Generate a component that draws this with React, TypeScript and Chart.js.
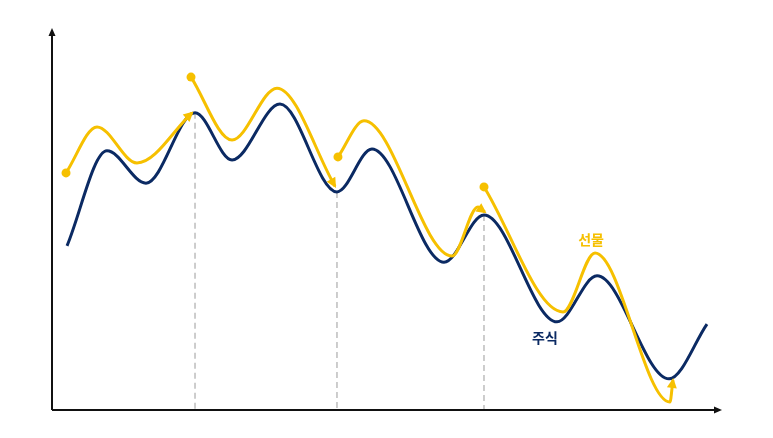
import React, { useEffect, useRef } from "react";
import { Chart, registerables, Plugin } from "chart.js";

Chart.register(...registerables);

// 주식 (stock) curve, x / y in chart units (0..100)
const stockX = [2.25, 8.23, 14.07, 21.41, 26.95, 34.13, 42.66, 47.9, 58.68, 64.67, 75.6, 81.59, 92.37, 98.05];
const stockY = [43.2, 68.2, 59.7, 78.2, 65.8, 80.5, 57.4, 68.7, 38.9, 51.3, 23.2, 35.3, 8.2, 22.6];

// 선물 (futures) curve, in four rolled segments
const futX1 = [2.1, 6.74, 12.72, 20.96];
const futY1 = [62.4, 74.5, 65.0, 78.2];
const futX2 = [20.81, 26.95, 33.68, 42.37];
const futY2 = [87.6, 71.05, 84.7, 58.9];
const futX3 = [42.81, 46.7, 59.9, 63.77, 64.8];
const futY3 = [66.6, 76.1, 40.5, 53.4, 52.1];
const futX4 = [64.67, 76.5, 81.29, 92.5, 92.96];
const futY4 = [58.7, 25.8, 41.3, 2.1, 7.9];

// roll dates: indices of the stock points that get a dashed guide
const guideIdx = [3, 6, 9];

const NAVY = "#0b2a63";
const GOLD = "#f6c000";

const zip = (xs: number[], ys: number[]) => xs.map((x, i) => ({ x, y: ys[i] }));

const App: React.FC = () => {
  const canvasRef = useRef<HTMLCanvasElement | null>(null);
  const chartRef = useRef<Chart<"line"> | null>(null);

  useEffect(() => {
    const ctx = canvasRef.current?.getContext("2d");
    if (!ctx) return;

    const futSegs = [
      zip(futX1, futY1),
      zip(futX2, futY2),
      zip(futX3, futY3),
      zip(futX4, futY4),
    ];

    const decor: Plugin<"line"> = {
      id: "decor",
      beforeDatasetsDraw(chart) {
        const c = chart.ctx;
        const { left, right, top, bottom } = chart.chartArea;
        const stockMeta = chart.getDatasetMeta(futSegs.length);

        // dashed guides
        c.save();
        c.strokeStyle = "#bdbdbd";
        c.lineWidth = 1.5;
        c.setLineDash([6, 4]);
        guideIdx.forEach((i) => {
          const p = stockMeta.data[i] as any;
          c.beginPath();
          c.moveTo(p.x, p.y);
          c.lineTo(p.x, bottom);
          c.stroke();
        });
        c.restore();

        // axes with arrows
        c.save();
        c.strokeStyle = "#111";
        c.fillStyle = "#111";
        c.lineWidth = 2;
        c.beginPath();
        c.moveTo(left, bottom);
        c.lineTo(left, top + 2);
        c.moveTo(left, bottom);
        c.lineTo(right - 2, bottom);
        c.stroke();
        c.beginPath();
        c.moveTo(left, top - 2);
        c.lineTo(left - 3.5, top + 6);
        c.lineTo(left + 3.5, top + 6);
        c.closePath();
        c.fill();
        c.beginPath();
        c.moveTo(right + 2, bottom);
        c.lineTo(right - 6, bottom - 3.5);
        c.lineTo(right - 6, bottom + 3.5);
        c.closePath();
        c.fill();
        c.restore();
      },
      afterDatasetsDraw(chart) {
        const c = chart.ctx;
        // arrow heads at the end of each futures segment
        futSegs.forEach((_, di) => {
          const meta = chart.getDatasetMeta(di);
          const pts = meta.data as any[];
          const p = pts[pts.length - 1];
          let dx = p.x - (p.cp1x ?? pts[pts.length - 2].x);
          let dy = p.y - (p.cp1y ?? pts[pts.length - 2].y);
          if (Math.abs(dx) + Math.abs(dy) < 0.01) {
            dx = p.x - pts[pts.length - 2].x;
            dy = p.y - pts[pts.length - 2].y;
          }
          const a = Math.atan2(dy, dx);
          c.save();
          c.translate(p.x, p.y);
          c.rotate(a);
          c.fillStyle = GOLD;
          c.beginPath();
          c.moveTo(2, 0);
          c.lineTo(-8, -5);
          c.lineTo(-8, 5);
          c.closePath();
          c.fill();
          c.restore();
        });

        // series labels
        const xs = chart.scales.x;
        const ys = chart.scales.y;
        c.save();
        c.font = "bold 14px 'Noto Sans CJK KR', sans-serif";
        c.textAlign = "center";
        c.textBaseline = "middle";
        c.fillStyle = GOLD;
        c.fillText("선물", xs.getPixelForValue(80.7), ys.getPixelForValue(44.7));
        c.fillStyle = NAVY;
        c.fillText("주식", xs.getPixelForValue(73.8), ys.getPixelForValue(19.0));
        c.restore();
      },
    };

    if (chartRef.current) chartRef.current.destroy();

    chartRef.current = new Chart(ctx, {
      type: "line",
      data: {
        datasets: [
          ...futSegs.map((d) => ({
            data: d,
            borderColor: GOLD,
            backgroundColor: GOLD,
            borderWidth: 3,
            pointRadius: d.map((_, i) => (i === 0 ? 4.5 : 0)),
            pointBorderWidth: 0,
            cubicInterpolationMode: "monotone" as const,
            clip: false as const,
          })),
          {
            data: zip(stockX, stockY),
            borderColor: NAVY,
            borderWidth: 3,
            pointRadius: 0,
            cubicInterpolationMode: "monotone" as const,
            clip: false as const,
          },
        ],
      },
      options: {
        animation: false,
        responsive: true,
        maintainAspectRatio: false,
        layout: { padding: { left: 52, right: 53, top: 30, bottom: 28 } },
        plugins: { legend: { display: false }, tooltip: { enabled: false } },
        scales: {
          x: { type: "linear", min: 0, max: 100, display: false },
          y: { type: "linear", min: 0, max: 100, display: false },
        },
      },
      plugins: [decor],
    });

    return () => {
      if (chartRef.current) {
        chartRef.current.destroy();
        chartRef.current = null;
      }
    };
  }, []);

  return (
    <div style={{ position: "fixed", left: 0, top: 0, width: 773, height: 438, background: "#fff" }}>
      <canvas ref={canvasRef}></canvas>
    </div>
  );
};

export default App;
